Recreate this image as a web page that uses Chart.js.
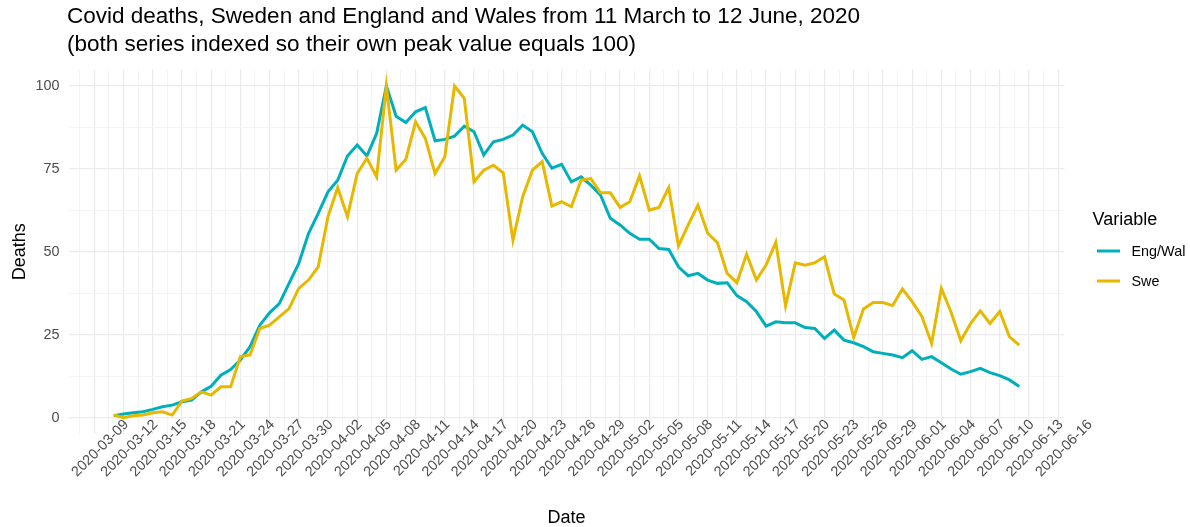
<!DOCTYPE html>
<html>
<head>
<meta charset="utf-8">
<title>Covid deaths, Sweden and England and Wales</title>
<script src="https://cdn.jsdelivr.net/npm/chart.js@4.4.0/dist/chart.umd.min.js"></script>
<style>
  html, body { margin: 0; padding: 0; background: #fff; }
</style>
</head>
<body>
<canvas id="myChart" width="1190" height="527"></canvas>
<script>
// daily dates, 11 March to 12 June 2020
var dates = [
  "2020-03-11","2020-03-12","2020-03-13","2020-03-14","2020-03-15","2020-03-16","2020-03-17","2020-03-18",
  "2020-03-19","2020-03-20","2020-03-21","2020-03-22","2020-03-23","2020-03-24","2020-03-25","2020-03-26",
  "2020-03-27","2020-03-28","2020-03-29","2020-03-30","2020-03-31",
  "2020-04-01","2020-04-02","2020-04-03","2020-04-04","2020-04-05","2020-04-06","2020-04-07","2020-04-08",
  "2020-04-09","2020-04-10","2020-04-11","2020-04-12","2020-04-13","2020-04-14","2020-04-15","2020-04-16",
  "2020-04-17","2020-04-18","2020-04-19","2020-04-20","2020-04-21","2020-04-22","2020-04-23","2020-04-24",
  "2020-04-25","2020-04-26","2020-04-27","2020-04-28","2020-04-29","2020-04-30",
  "2020-05-01","2020-05-02","2020-05-03","2020-05-04","2020-05-05","2020-05-06","2020-05-07","2020-05-08",
  "2020-05-09","2020-05-10","2020-05-11","2020-05-12","2020-05-13","2020-05-14","2020-05-15","2020-05-16",
  "2020-05-17","2020-05-18","2020-05-19","2020-05-20","2020-05-21","2020-05-22","2020-05-23","2020-05-24",
  "2020-05-25","2020-05-26","2020-05-27","2020-05-28","2020-05-29","2020-05-30","2020-05-31",
  "2020-06-01","2020-06-02","2020-06-03","2020-06-04","2020-06-05","2020-06-06","2020-06-07","2020-06-08",
  "2020-06-09","2020-06-10","2020-06-11","2020-06-12"
];

var engWal = [
  0.6, 1.1, 1.5, 1.8, 2.5, 3.3, 3.8, 4.8, 5.3, 7.8,
  9.5, 12.8, 14.5, 17.4, 21.4, 27.9, 31.6, 34.4, 40.5, 46.5,
  55.5, 61.6, 68.1, 71.6, 78.9, 82.2, 78.9, 85.7, 100, 90.9,
  89.0, 92.2, 93.5, 83.5, 83.9, 84.9, 87.9, 86.2, 79.2, 83.2,
  83.9, 85.2, 88.2, 86.2, 79.7, 75.2, 76.4, 71.1, 72.6, 70.1,
  67.1, 60.1, 58.1, 55.6, 53.8, 53.8, 51.0, 50.7, 45.5, 42.8,
  43.5, 41.5, 40.5, 40.7, 36.8, 35.0, 32.0, 27.6, 28.9, 28.6,
  28.6, 27.2, 26.9, 23.9, 26.4, 23.4, 22.6, 21.4, 19.9, 19.4,
  18.9, 18.1, 20.2, 17.6, 18.4, 16.6, 14.7, 13.1, 13.9, 14.9,
  13.6, 12.7, 11.4, 9.4
];

var swe = [
  0.8, 0.0, 0.6, 0.8, 1.5, 1.8, 0.8, 5.0, 5.8, 7.8,
  6.8, 9.3, 9.3, 18.4, 18.9, 26.9, 27.9, 30.4, 32.9, 39.0,
  41.5, 45.5, 60.6, 69.4, 60.6, 73.6, 78.2, 72.6, 100, 74.6,
  77.9, 89.2, 84.2, 73.6, 78.7, 100, 96.3, 71.1, 74.6, 76.1,
  73.8, 53.5, 66.6, 74.6, 77.2, 63.8, 65.1, 63.6, 71.6, 72.1,
  67.8, 67.8, 63.4, 65.1, 72.9, 62.6, 63.4, 69.4, 51.8, 58.1,
  64.1, 55.6, 52.8, 43.5, 40.7, 49.3, 41.5, 46.0, 52.9, 33.7,
  46.7, 46.0, 46.7, 48.5, 37.3, 35.5, 24.2, 32.8, 34.7, 34.7,
  33.8, 38.8, 35.0, 30.5, 22.4, 39.0, 31.8, 23.2, 28.4, 32.2,
  28.4, 32.0, 24.4, 21.9
];

var seriesNames = ["Eng/Wal", "Swe"];
var seriesColors = ["#00AFBB", "#E7B800"];

var xTickLabels = [
  "2020-03-09","2020-03-12","2020-03-15","2020-03-18","2020-03-21","2020-03-24","2020-03-27","2020-03-30",
  "2020-04-02","2020-04-05","2020-04-08","2020-04-11","2020-04-14","2020-04-17","2020-04-20","2020-04-23",
  "2020-04-26","2020-04-29","2020-05-02","2020-05-05","2020-05-08","2020-05-11","2020-05-14","2020-05-17",
  "2020-05-20","2020-05-23","2020-05-26","2020-05-29","2020-06-01","2020-06-04","2020-06-07","2020-06-10",
  "2020-06-13","2020-06-16"
];
var yTickLabels = [0, 25, 50, 75, 100];

var titleLines = [
  "Covid deaths, Sweden and England and Wales from 11 March to 12 June, 2020",
  "(both series indexed so their own peak value equals 100)"
];

const FONT = '"Liberation Sans", Arial, Helvetica, sans-serif';
const DAY = 86400000;
const dayIndex = (s) => Math.round((Date.parse(s) - Date.parse(dates[0])) / DAY);

// ggplot style expansion of 5% on each side
const span = dayIndex(dates[dates.length - 1]);
const xMin = -0.05 * span;
const xMax = span + 0.05 * span;

const xMajor = xTickLabels.map(dayIndex);
let xTicks = [];
for (const v of xMajor) {
  xTicks.push(v - 1.5);
  xTicks.push(v);
}
xTicks = xTicks.filter(v => v >= xMin && v <= xMax);

let yTicks = [];
for (const v of yTickLabels) {
  yTicks.push(v);
  if (v < 100) yTicks.push(v + 12.5);
}

const toPoints = (vals) => vals.map((v, i) => ({x: dayIndex(dates[i]), y: v}));

const gridColor = (isMajor) => (ctx) => isMajor(ctx.tick.value) ? "#EBEBEB" : "#F1F1F1";
const gridWidth = (isMajor) => (ctx) => isMajor(ctx.tick.value) ? 1.2 : 0.8;
const isXMajor = (v) => xMajor.includes(v);
const isYMajor = (v) => yTickLabels.includes(v);

// title and legend, placed like the ggplot output
const textPlugin = {
  id: "textPlugin",
  afterDraw(chart) {
    const ctx = chart.ctx;
    ctx.save();
    ctx.fillStyle = "#000";
    ctx.textAlign = "left";
    ctx.textBaseline = "alphabetic";
    ctx.font = "22.5px " + FONT;
    ctx.fillText(titleLines[0], 67, 23);
    ctx.fillText(titleLines[1], 67, 50.5);

    ctx.font = "18px " + FONT;
    ctx.fillText("Variable", 1092.5, 225);
    chart.data.datasets.forEach((ds, i) => {
      const y = 251 + i * 30;
      ctx.strokeStyle = ds.borderColor;
      ctx.lineWidth = 3;
      ctx.beginPath();
      ctx.moveTo(1097, y);
      ctx.lineTo(1120, y);
      ctx.stroke();
      ctx.font = "14.4px " + FONT;
      ctx.fillText(ds.label, 1131.5, y + 5.2);
    });
    ctx.restore();
  }
};

new Chart("myChart", {
  type: "line",
  data: {
    datasets: [
      {
        label: seriesNames[0],
        data: toPoints(engWal),
        borderColor: seriesColors[0],
        backgroundColor: seriesColors[0],
        borderWidth: 3,
        pointRadius: 0,
        tension: 0,
        order: 1
      },
      {
        label: seriesNames[1],
        data: toPoints(swe),
        borderColor: seriesColors[1],
        backgroundColor: seriesColors[1],
        borderWidth: 3,
        pointRadius: 0,
        tension: 0,
        order: 0
      }
    ]
  },
  options: {
    responsive: false,
    animation: false,
    devicePixelRatio: 1,
    layout: { padding: { left: 0, top: 69.4, right: 125.5, bottom: 0 } },
    plugins: {
      legend: { display: false },
      title: { display: false },
      tooltip: { enabled: false }
    },
    scales: {
      x: {
        type: "linear",
        min: xMin,
        max: xMax,
        afterBuildTicks: (scale) => { scale.ticks = xTicks.map(v => ({value: v})); },
        afterFit: (scale) => {
          scale.height = 92.7;
          // labels sit partly over the panel, as in the ggplot output, so don't clip them
          scale._computeLabelArea = () => undefined;
        },
        border: { display: false },
        grid: { color: gridColor(isXMajor), lineWidth: gridWidth(isXMajor), drawTicks: false },
        ticks: {
          autoSkip: false,
          minRotation: 45,
          maxRotation: 45,
          padding: -18,
          labelOffset: 32,
          color: "#4D4D4D",
          font: { family: FONT, size: 14.4 },
          callback: (value) => {
            const k = xMajor.indexOf(value);
            return k >= 0 ? xTickLabels[k] : "";
          }
        },
        title: {
          display: true,
          text: "Date",
          color: "#000",
          font: { family: FONT, size: 18 },
          padding: { top: 0, bottom: -2 }
        }
      },
      y: {
        min: -5,
        max: 105,
        afterBuildTicks: (scale) => { scale.ticks = yTicks.map(v => ({value: v})); },
        afterFit: (scale) => { scale.width = 68.5; },
        border: { display: false },
        grid: { color: gridColor(isYMajor), lineWidth: gridWidth(isYMajor), drawTicks: false },
        ticks: {
          padding: 9,
          color: "#4D4D4D",
          font: { family: FONT, size: 14.4 },
          callback: (value) => isYMajor(value) ? String(value) : ""
        },
        title: {
          display: true,
          text: "Deaths",
          color: "#000",
          font: { family: FONT, size: 18 },
          padding: { top: 9, bottom: 0 }
        }
      }
    }
  },
  plugins: [textPlugin]
});
</script>
</body>
</html>
